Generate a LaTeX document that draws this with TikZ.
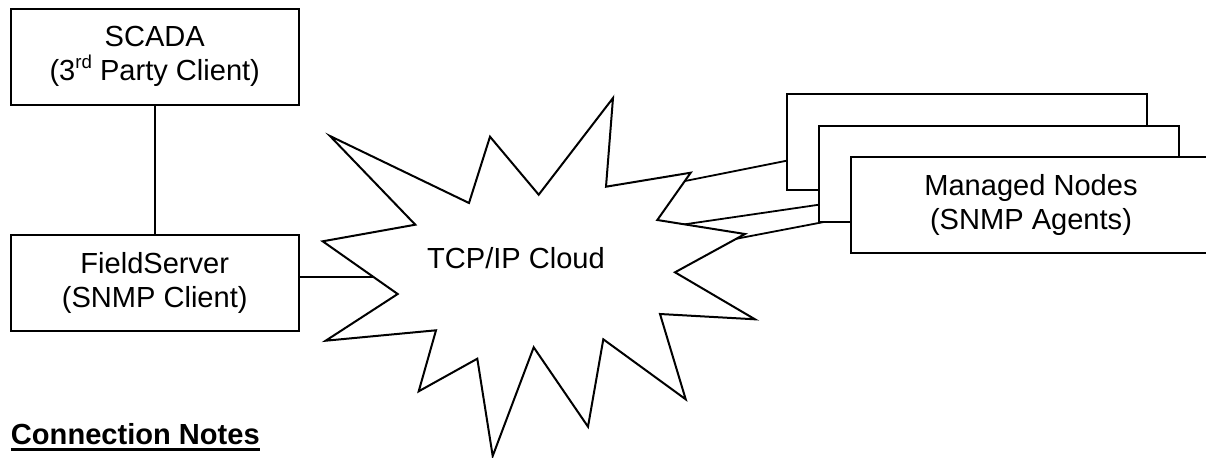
\documentclass[tikz,border=0pt]{standalone}
\usepackage{fontspec}
\setmainfont{Liberation Sans}
\usetikzlibrary{backgrounds}
\newcommand{\uline}[1]{\setbox0\hbox{#1}\rlap{\rule[-5.4pt]{\wd0}{2.3pt}}\box0}
\tikzset{
  x=0.75pt,y=-0.75pt,
  every node/.style={font=\fontsize{21.8}{25.6}\selectfont,align=center,inner sep=0pt,outer sep=0pt},
  box/.style={draw=black,fill=white,line width=1.5pt,minimum width=216pt,minimum height=72pt},
  link/.style={draw=black,line width=1.35pt},
  cloud outline/.style={draw=black,fill=white,line width=1.5pt,line join=miter,miter limit=10}
}
\begin{document}
\begin{tikzpicture}
\useasboundingbox (0,0) rectangle (1206,457);
\node[box] (scada) at (154.75,56.5) {SCADA\\(3\raisebox{0.42em}{\fontsize{14}{14}\selectfont rd} Party Client)};
\node[box] (field) at (154.75,283.3) {FieldServer\\(SNMP Client)};
\node[box,minimum width=270pt] (m1) at (966.8,141.5) {};
\node[box,minimum width=270pt] (m2) at (999,173.7) {};
\node[box,minimum width=270pt] (m3) at (1031,205.3) {Managed Nodes\\(SNMP Agents)};
% cloud
\path[cloud outline] (330,136) -- (469,203) -- (490,136.7) -- (538.7,194.7) -- (613,98)
  -- (606,186.7) -- (690.7,172.7) -- (657.3,220) -- (745,234) -- (675,272.3)
  -- (755,319.3) -- (660,314) -- (685.7,399.3) -- (603.3,339.3) -- (588,426.7)
  -- (533.7,347.3) -- (492.7,456) -- (477.3,358.7) -- (418.7,391.3) -- (436,330.3)
  -- (325.7,340.7) -- (397.7,294) -- (322.7,241.3) -- (415.3,224.7) -- cycle;
\node[anchor=base] (cloudlabel) at (516,268) {TCP/IP Cloud};
\coordinate (cfield) at (420,277.3);
\coordinate (cm1) at (650,188);
\coordinate (cm2) at (650,229.4);
\coordinate (cm3) at (700,245.7);
\begin{scope}[on background layer]
  \draw[link] (scada.south) -- (field.north);
  \draw[link] (field.east |- cfield) -- (cfield);
  \draw[link] (cm1) -- (m1.west |- 0,160.7);
  \draw[link] (cm2) -- (m2.west |- 0,204.7);
  \draw[link] (cm3) -- (m3.west |- 0,216.8);
\end{scope}
\node[anchor=base west] (notes) at (11,444) {\bfseries\uline{Connection Notes}};
\end{tikzpicture}
\end{document}
